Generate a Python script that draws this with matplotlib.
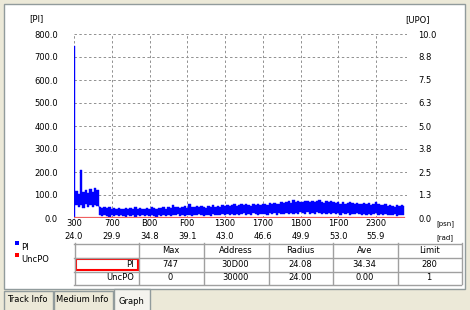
import matplotlib
matplotlib.use("Agg")
import matplotlib.pyplot as plt
import matplotlib.transforms as mtransforms
from matplotlib.patches import Rectangle
import numpy as np

plt.rcParams['font.family'] = ['DejaVu Sans']
plt.rcParams['font.size'] = 6

# ---- data ----
# x axis is the position in units of 0x100 sectors (hex labels)
tick_pos = [0x300, 0x700, 0xB00, 0xF00, 0x1300, 0x1700, 0x1B00, 0x1F00, 0x2300]
tick_hex = ["300", "700", "B00", "F00", "1300", "1700", "1B00", "1F00", "2300"]
tick_rad = ["24.0", "29.9", "34.8", "39.1", "43.0", "46.6", "49.9", "53.0", "55.9"]

upo_ticks = ["0.0", "1.3", "2.5", "3.8", "5.0", "6.3", "7.5", "8.8", "10.0"]

# PI errors: upper and lower edge of the noisy band, one pair every 0x40
pi_hi = [747, 118, 105, 210, 112, 120, 108, 125, 115, 130, 122,
         50, 44, 47, 42, 46, 40, 43, 38, 45, 41,
         39, 44, 37, 42, 40, 46, 38, 43, 41, 39,
         44, 40, 47, 42, 38, 45, 43, 49, 41, 46,
         44, 58, 47, 50, 43, 48, 52, 45, 62, 49,
         47, 51, 46, 53, 49, 45, 52, 48, 55, 50,
         53, 49, 56, 51, 58, 52, 55, 60, 54, 57,
         59, 55, 62, 57, 54, 61, 58, 63, 56, 60,
         62, 58, 65, 60, 67, 63, 61, 68, 64, 70,
         72, 66, 80, 69, 74, 71, 68, 76, 73, 70,
         75, 68, 72, 77, 70, 66, 73, 69, 74, 71,
         65, 70, 63, 68, 62, 66, 71, 64, 60, 67,
         63, 59, 66, 61, 64, 58, 62, 70, 60, 57,
         55, 60, 52, 57, 54, 50, 58, 53, 56, 52]
pi_lo = [0, 55, 48, 58, 42, 60, 50, 56, 47, 58, 52,
         12, 8, 15, 10, 6, 14, 9, 12, 7, 11,
         10, 5, 13, 8, 11, 6, 14, 9, 12, 7,
         11, 8, 14, 10, 6, 13, 9, 15, 10, 12,
         9, 14, 11, 16, 10, 13, 8, 15, 12, 10,
         14, 11, 16, 12, 9, 15, 13, 10, 17, 12,
         15, 12, 18, 13, 16, 11, 17, 14, 19, 13,
         16, 20, 14, 18, 15, 21, 17, 13, 19, 16,
         18, 14, 21, 17, 20, 15, 22, 18, 16, 21,
         19, 23, 17, 22, 18, 25, 20, 16, 24, 19,
         22, 18, 24, 20, 17, 23, 19, 21, 16, 22,
         18, 21, 15, 20, 17, 22, 14, 19, 16, 20,
         17, 13, 19, 15, 18, 12, 16, 20, 14, 17,
         13, 16, 11, 15, 12, 17, 10, 14, 12, 15]
uncpo = [0] * len(pi_hi)

# summary table
tbl_cols = ["", "Max", "Address", "Radius", "Ave", "Limit"]
tbl_pi = ["PI", "747", "30D00", "24.08", "34.34", "280"]
tbl_uncpo = ["UncPO", "0", "30000", "24.00", "0.00", "1"]

tabs = ["Track Info", "Medium Info", "Graph"]

# ---- figure ----
W, H = 470, 310
fig = plt.figure(figsize=(W / 100, H / 100), dpi=100)
fig.patch.set_facecolor('#ECE9D8')

# overlay in pixel units for the window chrome and the table
ov = fig.add_axes([0, 0, 1, 1])
ov.set_xlim(0, W)
ov.set_ylim(H, 0)
ov.axis('off')
ov.set_zorder(0)

ov.add_patch(Rectangle((3.5, 3.5), 461, 285, facecolor='white', edgecolor='#919B9C', lw=1))

# tabs
tab_x = [(3, 52), (53, 112), (113, 149)]
for (x0, x1), name in zip(tab_x, tabs):
    sel = name == "Graph"
    y0 = 288 if sel else 290
    ov.add_patch(Rectangle((x0 + 0.5, y0 + 0.5), x1 - x0, 22,
                           facecolor='#F4F3EE' if sel else '#ECE9D8',
                           edgecolor='#919B9C', lw=1, zorder=2 if sel else 1))
    ov.text((x0 + x1) / 2, 300 if not sel else 302, name, ha='center', va='center',
            fontsize=6, color='black', zorder=3)

# legend squares
ov.add_patch(Rectangle((15, 240.5), 4, 4, facecolor='#0000FF', edgecolor='none'))
ov.text(21, 247.5, "PI", ha='left', va='center', fontsize=6)
ov.add_patch(Rectangle((15, 252.5), 4, 4, facecolor='#FF0000', edgecolor='none'))
ov.text(21, 259.5, "UncPO", ha='left', va='center', fontsize=6)

# table
col_x = [74, 138, 203, 268, 332, 397, 461]
row_y = [243, 257, 271, 284]
for x in col_x:
    ov.plot([x + 0.5, x + 0.5], [row_y[0], row_y[-1]], color='#A0A0A0', lw=1)
for y in row_y:
    ov.plot([col_x[0], col_x[-1]], [y + 0.5, y + 0.5], color='#A0A0A0', lw=1)
for r, row in enumerate([tbl_cols, tbl_pi, tbl_uncpo]):
    yc = (row_y[r] + row_y[r + 1]) / 2 + 0.5
    for c, txt in enumerate(row):
        if c == 0:
            ov.text(col_x[1] - 4, yc, txt, ha='right', va='center', fontsize=6)
        else:
            ov.text((col_x[c] + col_x[c + 1]) / 2, yc, txt, ha='center', va='center', fontsize=6)
ov.add_patch(Rectangle((75.5, 259), 62, 11, facecolor='none', edgecolor='#FF0000', lw=1.5))

# ---- the graph ----
ax = fig.add_axes([74 / W, 1 - 218 / H, 333 / W, 184 / H])
ax.set_zorder(1)
ax.patch.set_alpha(0)

trk = np.arange(0x300, 0x2601, 0x40)

ax.set_xlim(0x300, 9800)
ax.set_ylim(0, 800)

for v in range(0, 801, 100):
    ax.axhline(v, color='#909090', lw=0.7, ls=(0, (2.5, 2.5)), zorder=0)
for t in tick_pos:
    ax.axvline(t, color='#909090', lw=0.7, ls=(0, (2.5, 2.5)), zorder=0)

# noisy band: one step per sample, from the low to the high edge
ax.fill_between(trk, pi_lo, pi_hi, step='mid', color='#0000FF', lw=0.3, zorder=2)
ax.plot(trk, uncpo, color='#F06060', lw=1.6, zorder=3)

for s in ax.spines.values():
    s.set_visible(False)
ax.set_xticks(tick_pos, tick_hex)
ax.set_yticks(range(0, 801, 100), [f"{v:.1f}" for v in range(0, 801, 100)])
ax.tick_params(axis='x', length=0, pad=0.8, labelsize=6)
ax.tick_params(axis='y', length=0, pad=11.5, labelsize=6)

trans = mtransforms.blended_transform_factory(ax.transData, ax.transAxes)
for t, r in zip(tick_pos, tick_rad):
    ax.text(t, -0.103, r, transform=trans, ha='center', va='center', fontsize=6)

ax2 = ax.twinx()
ax2.set_ylim(0, 10)
ax2.set_yticks(np.linspace(0, 10, 9), upo_ticks)
ax2.tick_params(axis='y', length=0, pad=8, labelsize=6)
for s in ax2.spines.values():
    s.set_visible(False)

ov.text(36, 19, "[PI]", ha='center', va='center', fontsize=6)
ov.text(417, 20, "[UPO]", ha='center', va='center', fontsize=6)
ov.text(445, 224, "[psn]", ha='center', va='center', fontsize=5)
ov.text(445, 237.5, "[rad]", ha='center', va='center', fontsize=5)

fig.savefig("out.png", dpi=100, facecolor=fig.get_facecolor())
